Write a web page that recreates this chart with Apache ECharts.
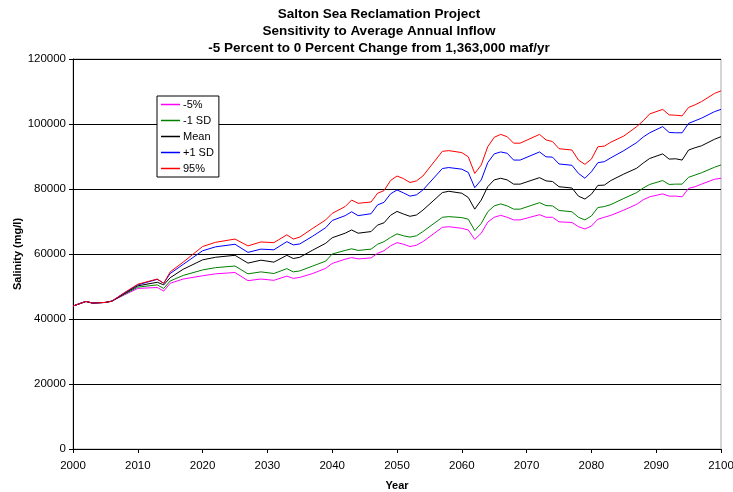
<!DOCTYPE html>
<html>
<head>
<meta charset="utf-8">
<script src="https://cdn.jsdelivr.net/npm/echarts@6/dist/echarts.min.js"></script>
<style>
  html, body { margin: 0; padding: 0; background: #fff; }
  #chart { width: 733px; height: 492px; }
</style>
</head>
<body>
<div id="chart"></div>
<script>
// years read off the chart, not evenly spaced
const years = [2000, 2002, 2003, 2005, 2006, 2008, 2010, 2013, 2014, 2015, 2017, 2020, 2022, 2025, 2027, 2029, 2031, 2033, 2034, 2035, 2037, 2039, 2040, 2042, 2043, 2044, 2046, 2047, 2048, 2049, 2050, 2051, 2052, 2053, 2054, 2057, 2058, 2060, 2061, 2062, 2063, 2064, 2065, 2066, 2067, 2068, 2069, 2072, 2073, 2074, 2075, 2077, 2078, 2079, 2080, 2081, 2082, 2083, 2085, 2087, 2088, 2089, 2091, 2092, 2093, 2094, 2095, 2096, 2097, 2099, 2100];

const p95 = [44000, 45400, 44900, 45100, 45500, 48200, 50700, 52300, 51000, 54500, 57500, 62300, 63600, 64600, 62500, 63700, 63500, 65900, 64600, 65200, 67900, 70500, 72500, 74600, 76600, 75600, 76000, 78700, 79500, 82600, 84000, 83200, 82000, 82500, 84000, 91600, 91800, 91200, 89900, 84800, 87400, 93000, 95900, 96800, 96100, 94100, 94100, 96800, 95100, 94600, 92400, 92000, 88900, 87600, 89200, 93000, 93200, 94400, 96300, 99200, 101000, 103100, 104500, 102800, 102700, 102500, 105100, 105900, 106900, 109400, 110200];
const plus1sd = [44000, 45400, 44900, 45100, 45500, 48100, 50500, 52200, 51000, 54000, 56800, 61000, 62200, 63000, 60500, 61500, 61300, 63800, 62800, 63100, 65500, 68100, 70300, 71800, 73000, 71800, 72400, 75100, 75900, 78500, 79700, 78800, 77800, 78200, 79700, 86300, 86600, 86100, 85100, 80400, 82800, 88100, 90800, 91400, 91000, 88900, 88900, 91400, 89900, 89800, 87700, 87300, 84800, 83300, 85300, 88100, 88400, 89600, 91800, 94300, 96000, 97300, 99200, 97400, 97300, 97300, 100200, 101000, 101800, 103800, 104500];
const mean = [44000, 45400, 44900, 45100, 45500, 47900, 50200, 51300, 50500, 52700, 55300, 58200, 59000, 59600, 57200, 58100, 57500, 59600, 58600, 59000, 61200, 63300, 65000, 66400, 67400, 66400, 66900, 68900, 69600, 71900, 73100, 72300, 71600, 72000, 73500, 78900, 79300, 78700, 77400, 73800, 76600, 80700, 82800, 83300, 82800, 81500, 81500, 83500, 82500, 82300, 80700, 80300, 77800, 76900, 78400, 81100, 81200, 82600, 84600, 86400, 88000, 89400, 90800, 89200, 89300, 88900, 92000, 92700, 93300, 95300, 96100];
const minus1sd = [44000, 45400, 44900, 45100, 45500, 47700, 49800, 50500, 49400, 51700, 53400, 55100, 55800, 56300, 53900, 54500, 54000, 55500, 54500, 54800, 56300, 57800, 60000, 61100, 61600, 61100, 61500, 63000, 63800, 65100, 66200, 65600, 65200, 65600, 66900, 71300, 71500, 71200, 70700, 67200, 69400, 73000, 74800, 75400, 74800, 73800, 73800, 75800, 74900, 74800, 73400, 73000, 71300, 70500, 71700, 74300, 74600, 75200, 77100, 78900, 80300, 81400, 82600, 81400, 81500, 81500, 83600, 84300, 85000, 86700, 87400];
const p5 = [44000, 45400, 44900, 45100, 45500, 47500, 49400, 49700, 48600, 51000, 52300, 53300, 53900, 54300, 51800, 52300, 51900, 53200, 52500, 52800, 54000, 55600, 57100, 58400, 58900, 58500, 58800, 60200, 61000, 62500, 63500, 63000, 62300, 62700, 63800, 68200, 68400, 67900, 67400, 64500, 66400, 69800, 71300, 71900, 71300, 70500, 70500, 72100, 71300, 71300, 69900, 69700, 68400, 67700, 68600, 70700, 71300, 71900, 73500, 75300, 76700, 77600, 78500, 77800, 77800, 77600, 80200, 80700, 81500, 83000, 83300];

const seriesNames = ["-5%", "-1 SD", "Mean", "+1 SD", "95%"];
const seriesColors = ["#ff00ff", "#008000", "#000000", "#0000ff", "#ff0000"];
const seriesValues = [p5, minus1sd, mean, plus1sd, p95];

const font = "Liberation Sans, Arial, sans-serif";

const chart = echarts.init(document.getElementById("chart"));

chart.setOption({
  animation: false,
  backgroundColor: "#fff",
  title: {
    text: "Salton Sea Reclamation Project\nSensitivity to Average Annual Inflow\n-5 Percent to 0 Percent Change from 1,363,000 maf/yr",
    left: 374,
    textAlign: "center",
    top: 1,
    textStyle: {
      fontFamily: font,
      fontSize: 13.5,
      fontWeight: "bold",
      color: "#000",
      lineHeight: 17,
    },
  },
  legend: {
    orient: "vertical",
    left: 157,
    top: 96,
    data: seriesNames,
    icon: "rect",
    backgroundColor: "#fff",
    borderColor: "#000",
    borderWidth: 1,
    padding: [2, 5, 2, 4],
    itemWidth: 19,
    itemHeight: 1.5,
    itemGap: 3,
    textStyle: { fontFamily: font, fontSize: 11, color: "#000", lineHeight: 13, padding: [0, 0, 0, -2] },
  },
  grid: {
    left: 73,
    right: 12,
    top: 59,
    bottom: 43,
    outerBoundsMode: "none",
    show: true,
    borderColor: "#aaa",
    borderWidth: 1,
  },
  xAxis: {
    type: "value",
    min: 2000,
    max: 2100,
    interval: 10,
    name: "Year",
    nameLocation: "middle",
    nameGap: 31,
    nameTextStyle: { fontFamily: font, fontSize: 11, fontWeight: "bold", color: "#000" },
    axisLine: { lineStyle: { color: "#000", width: 1 } },
    axisTick: { length: 4, lineStyle: { color: "#000" } },
    axisLabel: {
      fontFamily: font,
      fontSize: 11.5,
      color: "#000",
      margin: 11,
      formatter: (v) => String(v),
    },
    splitLine: { show: false },
  },
  yAxis: {
    type: "value",
    min: 0,
    max: 120000,
    interval: 20000,
    name: "Salinity (mg/l)",
    nameLocation: "middle",
    nameGap: 50,
    nameMoveOverlap: false,
    nameTextStyle: { fontFamily: font, fontSize: 11, fontWeight: "bold", color: "#000" },
    axisLine: { show: true, lineStyle: { color: "#000", width: 1 } },
    axisTick: { show: true, length: 4, lineStyle: { color: "#000" } },
    axisLabel: {
      fontFamily: font,
      fontSize: 11.5,
      color: "#000",
      margin: 7,
      formatter: (v) => String(v),
    },
    splitLine: { lineStyle: { color: "#000", width: 1 } },
  },
  series: seriesNames.map((name, i) => ({
    name: name,
    type: "line",
    symbol: "none",
    color: seriesColors[i],
    lineStyle: { width: 1, color: seriesColors[i] },
    data: years.map((y, j) => [y, seriesValues[i][j]]),
  })),
});
</script>
</body>
</html>
